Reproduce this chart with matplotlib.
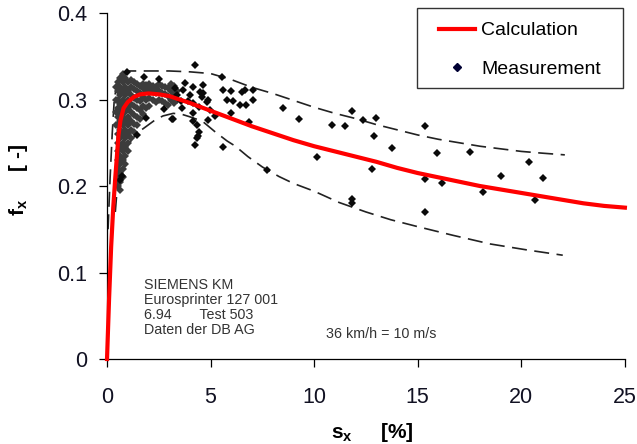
import numpy as np
import matplotlib.pyplot as plt
from matplotlib.lines import Line2D
from matplotlib.patches import Rectangle

plt.rcParams['font.family'] = ['Liberation Sans', 'DejaVu Sans']
plt.rcParams['mathtext.fontset'] = 'custom'
plt.rcParams['mathtext.rm'] = 'Liberation Sans'
plt.rcParams['mathtext.bf'] = 'Liberation Sans:bold'

# Kurva hitungan (merah)
calc_s = [0, 0.05, 0.1, 0.15, 0.2, 0.3, 0.4, 0.47, 0.55, 0.65, 0.8, 1.0, 1.3, 1.6,
          2.0, 2.5, 3.0, 3.5, 4.0, 5.0, 6.0, 7.0, 8.0, 9.0, 10.0, 11.0, 12.0, 13.0,
          14.0, 15.0, 16.0, 17.0, 18.0, 19.0, 20.0, 21.0, 22.0, 23.0, 24.0, 25.0]
calc_f = [0, 0.035, 0.07, 0.10, 0.13, 0.175, 0.21, 0.232, 0.258, 0.276, 0.290, 0.297,
          0.303, 0.306, 0.307, 0.306, 0.304, 0.300, 0.296, 0.287, 0.278, 0.269, 0.261,
          0.253, 0.246, 0.240, 0.234, 0.228, 0.221, 0.215, 0.210, 0.205, 0.200, 0.196,
          0.192, 0.188, 0.184, 0.180, 0.177, 0.175]

# Batas atas dan bawah (garis putus-putus)
upper_s = [0.05, 0.15, 0.25, 0.35, 0.5, 0.7, 1.0, 2.0, 3.0, 4.0, 5.0, 6.0, 7.0, 8.0,
           9.0, 10.0, 11.0, 12.0, 13.0, 14.0, 15.0, 16.0, 17.0, 18.0, 19.0, 20.0, 21.0, 22.1]
upper_f = [0.15, 0.21, 0.26, 0.30, 0.322, 0.330, 0.333, 0.333, 0.333, 0.332, 0.330,
           0.323, 0.314, 0.307, 0.299, 0.291, 0.284, 0.278, 0.271, 0.265, 0.259, 0.254,
           0.250, 0.246, 0.243, 0.240, 0.238, 0.236]
lower_s = [0.4, 0.5, 0.65, 0.87, 1.2, 1.5, 1.9, 2.3, 2.7, 3.2, 3.6, 4.0, 4.6, 5.2, 5.8,
           6.2, 6.8, 7.5, 8.3, 9.0, 10.0, 11.2, 12.5, 13.7, 15.0, 16.7, 18.5, 20.3, 22.0]
lower_f = [0.17, 0.20, 0.225, 0.242, 0.254, 0.262, 0.269, 0.276, 0.281, 0.284, 0.283,
           0.280, 0.275, 0.263, 0.252, 0.246, 0.234, 0.222, 0.211, 0.203, 0.194, 0.181,
           0.170, 0.161, 0.153, 0.143, 0.133, 0.126, 0.120]

# Titik ukur yang padat (awan abu-abu), per kolom slip
cloud = {
    0.45: [0.27, 0.285, 0.30, 0.315],
    0.53: [0.20, 0.21, 0.22, 0.23, 0.24, 0.25, 0.26, 0.27, 0.28, 0.29, 0.30, 0.31, 0.32],
    0.64: [0.195, 0.205, 0.215, 0.225, 0.235, 0.245, 0.255, 0.265, 0.275, 0.285, 0.295,
           0.305, 0.315, 0.325],
    0.76: [0.21, 0.22, 0.23, 0.24, 0.25, 0.26, 0.27, 0.28, 0.29, 0.30, 0.31, 0.32, 0.33],
    0.88: [0.225, 0.235, 0.245, 0.255, 0.265, 0.275, 0.285, 0.295, 0.305, 0.315, 0.325],
    1.02: [0.24, 0.25, 0.26, 0.27, 0.28, 0.29, 0.30, 0.31, 0.32],
    1.16: [0.255, 0.265, 0.275, 0.285, 0.295, 0.305, 0.315, 0.322],
    1.30: [0.262, 0.272, 0.282, 0.292, 0.302, 0.312, 0.32],
    1.45: [0.27, 0.28, 0.29, 0.30, 0.31, 0.318],
    1.60: [0.278, 0.288, 0.298, 0.308, 0.316],
    1.75: [0.283, 0.293, 0.303, 0.313, 0.318],
    1.90: [0.29, 0.30, 0.31, 0.317],
    2.05: [0.292, 0.302, 0.312, 0.318],
    2.20: [0.30, 0.31, 0.316],
    2.35: [0.297, 0.307, 0.315],
    2.50: [0.30, 0.31, 0.318],
    2.65: [0.298, 0.308, 0.316],
    2.80: [0.296, 0.306, 0.315],
    2.95: [0.294, 0.304, 0.313],
    3.10: [0.30, 0.31, 0.318],
    3.25: [0.296, 0.306, 0.316],
    3.40: [0.30, 0.31],
}

# Titik ukur terpisah
meas_s = [0.95, 1.79, 2.52, 1.87, 1.43, 2.77, 3.15, 0.63, 0.71,
          3.76, 4.17, 4.49, 3.68, 4.0, 4.57, 4.81, 4.17, 4.46, 4.97, 5.21, 4.17, 4.36,
          4.46, 4.33, 3.2, 4.17, 4.89, 4.25, 4.65, 4.62, 4.25, 4.4, 4.89, 3.4, 3.55,
          3.9, 3.3, 3.6,
          5.57, 5.58, 5.6, 6.0, 6.5, 6.66, 7.05, 5.8, 6.1, 7.06, 6.4, 6.7, 6.0, 6.85,
          8.51, 9.27, 10.84, 11.49, 10.15, 7.74, 11.84, 12.37, 12.98, 12.9, 13.77,
          15.35, 15.94, 12.77, 15.35, 16.18, 11.84, 11.84, 15.35, 17.52, 20.37, 19.0,
          21.03, 18.13, 20.66]
meas_f = [0.332, 0.326, 0.324, 0.279, 0.259, 0.289, 0.277, 0.207, 0.211,
          0.319, 0.315, 0.309, 0.311, 0.305, 0.3025, 0.2975, 0.2955, 0.291, 0.288, 0.281,
          0.284, 0.2705, 0.263, 0.256, 0.278, 0.275, 0.276, 0.340, 0.317, 0.307, 0.247,
          0.258, 0.2994, 0.305, 0.298, 0.298, 0.313, 0.29,
          0.3256, 0.2455, 0.311, 0.310, 0.309, 0.311, 0.311, 0.300, 0.298, 0.300, 0.294,
          0.294, 0.284, 0.274,
          0.290, 0.278, 0.271, 0.269, 0.233, 0.219, 0.287, 0.276, 0.279, 0.258, 0.2436,
          0.269, 0.238, 0.2197, 0.208, 0.203, 0.1846, 0.180, 0.170, 0.239, 0.228, 0.2116,
          0.2096, 0.193, 0.184]

cloud_s = np.concatenate([[k] * len(v) for k, v in cloud.items()])
cloud_f = np.concatenate([v for v in cloud.values()])

fig = plt.figure(figsize=(6.37, 4.44), dpi=100)
ax = fig.add_axes([0.168, 0.1914, 0.813, 0.7793])

dash = (0, (9, 4.5))
ax.plot(upper_s, upper_f, color='#222222', lw=1.2, ls=dash)
ax.plot(lower_s, lower_f, color='#222222', lw=1.2, ls=dash)
ax.plot(cloud_s, cloud_f, ls='none', marker='D', ms=3.9, color='#3c3c3c', mew=0)
ax.plot(meas_s, meas_f, ls='none', marker='D', ms=3.6, color='#0a0a0a', mew=0)
ax.plot(calc_s, calc_f, color='#ff0000', lw=3.0, clip_on=False, zorder=5)

ax.set_xlim(0, 25)
ax.set_ylim(0, 0.4)
ax.set_xticks([0, 5, 10, 15, 20, 25])
ax.set_yticks([0, 0.1, 0.2, 0.3, 0.4])
ax.set_yticklabels(['0', '0.1', '0.2', '0.3', '0.4'])
ax.spines['top'].set_visible(False)
ax.spines['right'].set_visible(False)
for sp in ('left', 'bottom'):
    ax.spines[sp].set_linewidth(0.9)
ax.tick_params(direction='out', length=6, width=0.9, labelsize=15.5, labelcolor='#111122')
ax.tick_params(axis='x', pad=14)
ax.tick_params(axis='y', pad=8)

ax.set_ylabel(r'$\mathbf{f_x}$     [ -]', fontsize=15, fontweight='bold', va='center')
ax.yaxis.set_label_coords(-0.17, 0.517)
ax.set_xlabel(r'$\mathbf{s_x}$     [%]', fontsize=15, fontweight='bold', va='center')
ax.xaxis.set_label_coords(0.513, -0.211)

ax.text(1.8, 0.094, 'SIEMENS KM\nEurosprinter 127 001\n6.94       Test 503\nDaten der DB AG',
        fontsize=10.3, color='#333333', va='top', ha='left', linespacing=1.1)
ax.text(10.57, 0.029, '36 km/h = 10 m/s', fontsize=10.3, color='#333333', va='center', ha='left')

# Kotak legenda digambar sendiri supaya padding kiri/kanan lebih lebar
box = Rectangle((0.598, 0.783), 0.398, 0.231, transform=ax.transAxes, clip_on=False,
                facecolor='white', edgecolor='#333333', lw=1.0, zorder=6)
ax.add_patch(box)
handles = [Line2D([], [], color='#ff0000', lw=3.0),
           Line2D([], [], ls='none', marker='D', ms=3.6, color='#000033')]
leg = ax.legend(handles, ['Calculation', 'Measurement'], loc='center',
                bbox_to_anchor=(0.797, 0.894), fontsize=14, frameon=False,
                borderpad=0, labelspacing=1.05, handlelength=1.9, handletextpad=0.3,
                borderaxespad=0)
leg.set_zorder(7)

fig.savefig('out.png', dpi=100)
